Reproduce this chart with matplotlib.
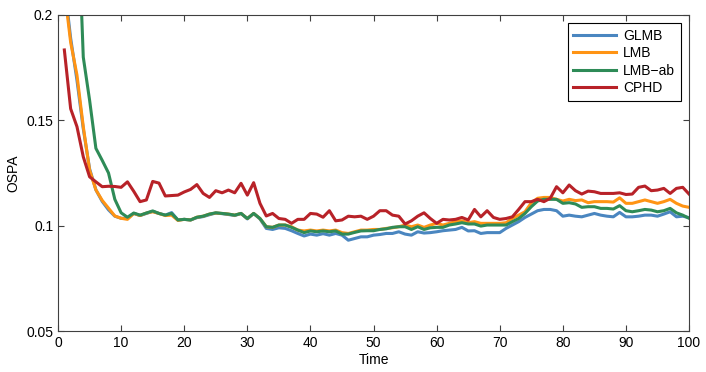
import numpy as np
import matplotlib
matplotlib.use("Agg")
import matplotlib.pyplot as plt
import matplotlib.ticker as mticker

plt.rcParams['font.family'] = ['Liberation Sans', 'DejaVu Sans']

# tempo 1..100
time = np.arange(1, 101)

glmb = [0.215, 0.189, 0.169, 0.146, 0.127, 0.117, 0.1115, 0.1075, 0.1045, 0.1035,
        0.1035, 0.1058, 0.1048, 0.1058, 0.1068, 0.1058, 0.1050, 0.1062, 0.1027, 0.1030,
        0.1027, 0.1038, 0.1043, 0.1052, 0.1060, 0.1057, 0.1053, 0.1048, 0.1058, 0.1032,
        0.1058, 0.1032, 0.0987, 0.0982, 0.0990, 0.0987, 0.0976, 0.0963, 0.0951, 0.0960,
        0.0955, 0.0962, 0.0955, 0.0963, 0.0955, 0.0931, 0.0939, 0.0947, 0.0947, 0.0955,
        0.0958, 0.0963, 0.0963, 0.0971, 0.0960, 0.0955, 0.0971, 0.0965, 0.0967, 0.0971,
        0.0976, 0.0979, 0.0982, 0.0992, 0.0975, 0.0976, 0.0963, 0.0967, 0.0967, 0.0967,
        0.0987, 0.1003, 0.1019, 0.1039, 0.1055, 0.1071, 0.1077, 0.1077, 0.1071, 0.1045,
        0.1050, 0.1045, 0.1042, 0.1050, 0.1058, 0.1050, 0.1045, 0.1042, 0.1063, 0.1042,
        0.1042, 0.1045, 0.1050, 0.1050, 0.1045, 0.1055, 0.1066, 0.1042, 0.1045, 0.1038]

lmb = [0.212, 0.187, 0.1715, 0.147, 0.1264, 0.117, 0.112, 0.1083, 0.1046, 0.1035,
       0.1030, 0.1058, 0.1048, 0.1060, 0.1066, 0.1058, 0.1048, 0.1050, 0.1025, 0.1030,
       0.1027, 0.1040, 0.1045, 0.1055, 0.1060, 0.1058, 0.1055, 0.1050, 0.1058, 0.1034,
       0.1058, 0.1034, 0.0995, 0.0992, 0.1003, 0.1003, 0.0995, 0.0979, 0.0975, 0.0979,
       0.0975, 0.0979, 0.0975, 0.0979, 0.0967, 0.0963, 0.0971, 0.0979, 0.0979, 0.0982,
       0.0982, 0.0987, 0.0990, 0.0995, 0.1003, 0.0995, 0.1003, 0.0992, 0.1003, 0.1011,
       0.1003, 0.1011, 0.1019, 0.1023, 0.1014, 0.1019, 0.1011, 0.1011, 0.1011, 0.1011,
       0.1014, 0.1034, 0.1050, 0.1066, 0.1108, 0.1130, 0.1134, 0.1134, 0.1125, 0.1117,
       0.1125, 0.1119, 0.1122, 0.1109, 0.1114, 0.1114, 0.1114, 0.1112, 0.1132, 0.1106,
       0.1106, 0.1114, 0.1122, 0.1114, 0.1106, 0.1114, 0.1125, 0.1106, 0.1093, 0.1087]

lmb_ab = [0.35, 0.30, 0.26, 0.180, 0.1596, 0.1367, 0.131, 0.125, 0.1125, 0.1061,
          0.1040, 0.1060, 0.1050, 0.1060, 0.1070, 0.1058, 0.1050, 0.1058, 0.1027, 0.1030,
          0.1027, 0.1040, 0.1045, 0.1055, 0.1061, 0.1058, 0.1055, 0.1050, 0.1058, 0.1034,
          0.1058, 0.1034, 0.0995, 0.0992, 0.1003, 0.1003, 0.0992, 0.0979, 0.0967, 0.0975,
          0.0971, 0.0975, 0.0971, 0.0975, 0.0960, 0.0960, 0.0968, 0.0975, 0.0976, 0.0976,
          0.0982, 0.0985, 0.0992, 0.0995, 0.0995, 0.0982, 0.0995, 0.0982, 0.0990, 0.0992,
          0.0992, 0.1003, 0.1008, 0.1014, 0.1008, 0.1008, 0.0998, 0.1003, 0.1003, 0.1003,
          0.1003, 0.1019, 0.1034, 0.1058, 0.1090, 0.1117, 0.1125, 0.1125, 0.1125, 0.1106,
          0.1109, 0.1103, 0.1087, 0.1090, 0.1090, 0.1082, 0.1082, 0.1079, 0.1095, 0.1071,
          0.1066, 0.1071, 0.1077, 0.1074, 0.1066, 0.1071, 0.1082, 0.1061, 0.1050, 0.1035]

cphd = [0.1834, 0.1555, 0.147, 0.1327, 0.1232, 0.1208, 0.1185, 0.1187, 0.1186, 0.1182,
        0.1208, 0.1163, 0.1114, 0.1122, 0.1210, 0.1202, 0.1141, 0.1143, 0.1145, 0.1160,
        0.1172, 0.1195, 0.1153, 0.1134, 0.1166, 0.1156, 0.1169, 0.1156, 0.1201, 0.1145,
        0.1204, 0.1106, 0.1046, 0.1058, 0.1034, 0.1030, 0.1011, 0.1030, 0.1030, 0.1058,
        0.1055, 0.1040, 0.1071, 0.1023, 0.1027, 0.1045, 0.1042, 0.1045, 0.1030, 0.1045,
        0.1071, 0.1071, 0.1050, 0.1045, 0.1008, 0.1023, 0.1045, 0.1061, 0.1034, 0.1011,
        0.1030, 0.1027, 0.1030, 0.1039, 0.1027, 0.1077, 0.1042, 0.1071, 0.1039, 0.1030,
        0.1034, 0.1042, 0.1077, 0.1114, 0.1114, 0.1125, 0.1114, 0.1130, 0.1185, 0.1156,
        0.1193, 0.1166, 0.1150, 0.1164, 0.1161, 0.1153, 0.1153, 0.1153, 0.1156, 0.1148,
        0.1150, 0.1182, 0.1188, 0.1166, 0.1169, 0.1177, 0.1153, 0.1177, 0.1182, 0.1150]

labels = ["GLMB", "LMB", "LMB\u2212ab", "CPHD"]
colors = ["#4a86c0", "#ff9414", "#2e8b57", "#b82228"]

fig = plt.figure(figsize=(7.06, 3.72), dpi=100)
ax = fig.add_axes([0.0822, 0.1102, 0.8938, 0.8495])

for serie, lab, col in zip([glmb, lmb, lmb_ab, cphd], labels, colors):
    ax.plot(time, serie, color=col, lw=2.2, label=lab)

ax.set_xlim(0, 100)
ax.set_ylim(0.05, 0.2)
ax.set_xticks(np.arange(0, 101, 10))
ax.set_yticks([0.05, 0.1, 0.15, 0.2])
ax.yaxis.set_major_formatter(mticker.FormatStrFormatter('%g'))
ax.tick_params(direction='in', length=4, top=True, right=True, labelsize=10,
               color='#404040', width=0.8)
for s in ax.spines.values():
    s.set_color('#404040')
    s.set_linewidth(0.8)

ax.set_xlabel("Time", fontsize=10, labelpad=2)
ax.set_ylabel("OSPA", fontsize=10, labelpad=4)

leg = ax.legend(loc='upper right', fontsize=10, fancybox=False, edgecolor='black',
                framealpha=1, handlelength=3.1, labelspacing=0.25,
                borderaxespad=0.6, handletextpad=0.5)
leg.get_frame().set_linewidth(0.8)

plt.savefig("out.png", dpi=100)
